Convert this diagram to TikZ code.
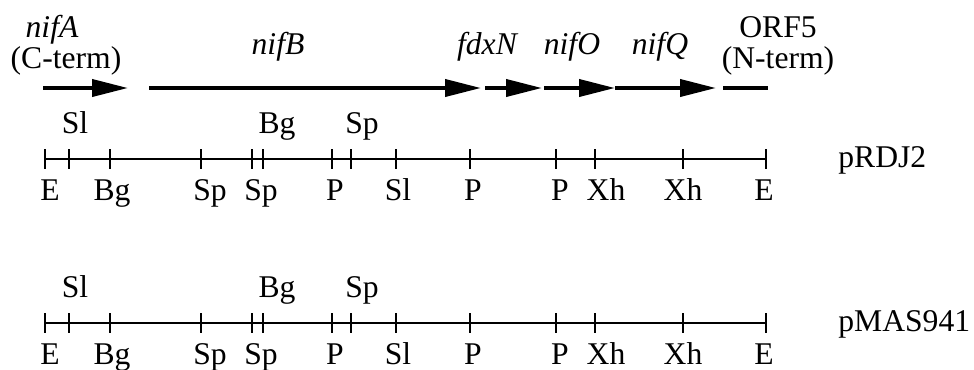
\documentclass[tikz,border=0pt]{standalone}
\usepackage{fontspec}
\setmainfont{Liberation Serif}
\usetikzlibrary{arrows.meta}
\begin{document}
\begin{tikzpicture}[
  x=0.02cm, y=-0.02cm,
  lbl/.style={font=\fontsize{18}{20}\selectfont, inner sep=0pt, anchor=base},
  gene/.style={lbl, font=\fontsize{18}{20}\selectfont\itshape},
  orf/.style={line width=2.2pt},
  orfarrow/.style={orf, -{Triangle[length=0.72cm,width=0.34cm]}},
  map/.style={line width=0.8pt}
]
\useasboundingbox (0,0) rectangle (974,369);
\node[gene] (nifA) at (52,37) {nifA};
\node[lbl] (cterm) at (66,68) {(C-term)};
\node[gene] (nifB) at (278,54) {nifB};
\node[gene] (fdxN) at (487,54) {fdxN};
\node[gene] (nifO) at (572,54) {nifO};
\node[gene] (nifQ) at (660,54) {nifQ};
\node[lbl] (orf5) at (778,37) {ORF5};
\node[lbl] (nterm) at (778,68) {(N-term)};
\coordinate (a0) at (43,88);
\coordinate (a1) at (128,88);
\coordinate (b0) at (149,88);
\coordinate (b1) at (481,88);
\coordinate (f0) at (485,88);
\coordinate (f1) at (542,88);
\coordinate (o0) at (544,88);
\coordinate (o1) at (615,88);
\coordinate (q1) at (716,88);
\coordinate (e0) at (723,88);
\coordinate (e1) at (768,88);
\draw[orfarrow] (a0) -- (a1);
\draw[orfarrow] (b0) -- (b1);
\draw[orfarrow] (f0) -- (f1);
\draw[orfarrow] (o0) -- (o1);
\draw[orfarrow] (o1) -- (q1);
\draw[orf] (e0) -- (e1);
\foreach \m/\yy/\plasmid in {rdj/159/pRDJ2, mas/323/pMAS941} {
  \coordinate (\m-l) at (45,\yy);
  \coordinate (\m-r) at (766,\yy);
  \draw[map] (\m-l) -- (\m-r);
  \foreach \xx in {45,69,110,201,252,263,332,351,396,470,556,595,683,766}
    \draw[map] (\xx,\yy-10) -- (\xx,\yy+10);
  \foreach \xx/\t [count=\i] in {75/Sl, 277/Bg, 362/Sp}
    \node[lbl] (\m-t\i) at (\xx,\yy-26) {\t};
  \foreach \xx/\t [count=\i] in {50/E, 112/Bg, 210/Sp, 261/Sp, 335/P, 398/Sl, 473/P, 560/P, 606/Xh, 683/Xh, 764/E}
    \node[lbl] (\m-b\i) at (\xx,\yy+41) {\t};
  \node[lbl, anchor=base west] (\m-name) at (838,\yy+8) {\plasmid};
}
\end{tikzpicture}
\end{document}
